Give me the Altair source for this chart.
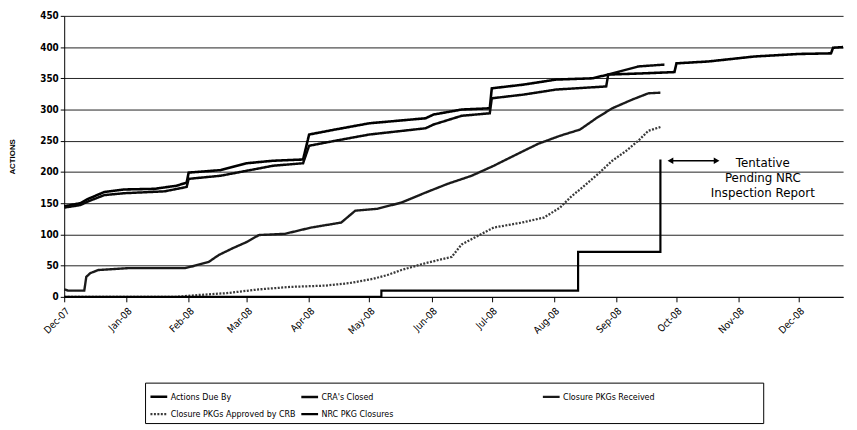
import altair as alt
import pandas as pd

SERIES = ["Actions Due By", "CRA's Closed", "Closure PKGs Received",
          "Closure PKGs Approved by CRB", "NRC PKG Closures"]

DUE_DATES = ["2007-12-01", "2007-12-09", "2007-12-13", "2007-12-21", "2007-12-31", "2008-01-15",
             "2008-01-26", "2008-01-31", "2008-02-01", "2008-02-17", "2008-03-01", "2008-03-14",
             "2008-03-29", "2008-04-01", "2008-04-14", "2008-05-01", "2008-05-29", "2008-06-02",
             "2008-06-16", "2008-06-30", "2008-07-01", "2008-07-17", "2008-08-02", "2008-08-20",
             "2008-08-28", "2008-09-15", "2008-09-30", "2008-10-01", "2008-10-17", "2008-11-09",
             "2008-12-01", "2008-12-17", "2008-12-18", "2008-12-23"]
DUE_VALUES = [145, 150, 157, 168, 172, 173, 178, 183, 199, 203, 214, 218, 220, 260, 268, 278, 286,
              292, 300, 302, 334, 340, 348, 350, 356, 358, 360, 374, 377, 385, 389, 390, 399, 400]

CRA_DATES = ["2007-12-01", "2007-12-09", "2007-12-13", "2007-12-21", "2007-12-31", "2008-01-20",
             "2008-01-31", "2008-02-01", "2008-02-17", "2008-03-01", "2008-03-14", "2008-03-29",
             "2008-04-01", "2008-04-14", "2008-05-01", "2008-05-29", "2008-06-02", "2008-06-16",
             "2008-06-30", "2008-07-01", "2008-07-17", "2008-08-02", "2008-08-27", "2008-08-28",
             "2008-09-12", "2008-09-25"]
CRA_VALUES = [143, 147, 153, 163, 166, 169, 176, 189, 194, 202, 210, 214, 242, 250, 260, 270, 276,
              290, 294, 318, 324, 332, 337, 356, 369, 372]

RECV_DATES = ["2007-12-01", "2007-12-03", "2007-12-11", "2007-12-12", "2007-12-14", "2007-12-18",
              "2008-01-02", "2008-01-30", "2008-02-03", "2008-02-11", "2008-02-16", "2008-02-23",
              "2008-03-01", "2008-03-07", "2008-03-20", "2008-04-02", "2008-04-17", "2008-04-24",
              "2008-05-05", "2008-05-17", "2008-05-29", "2008-06-09", "2008-06-21", "2008-07-02",
              "2008-07-12", "2008-07-24", "2008-08-04", "2008-08-14", "2008-08-22", "2008-08-30",
              "2008-09-09", "2008-09-17", "2008-09-23"]
RECV_VALUES = [12, 10, 10, 32, 38, 43, 46, 46, 49, 56, 67, 78, 88, 99, 101, 111, 119, 138, 141, 151,
               167, 181, 194, 210, 226, 245, 258, 268, 286, 302, 316, 326, 327]

CRB_DATES = ["2007-12-01", "2008-01-26", "2008-02-06", "2008-02-20", "2008-03-07", "2008-03-23",
             "2008-04-09", "2008-04-21", "2008-05-03", "2008-05-10", "2008-05-17", "2008-05-29",
             "2008-06-11", "2008-06-16", "2008-06-26", "2008-07-02", "2008-07-16", "2008-07-27",
             "2008-08-04", "2008-08-09", "2008-08-15", "2008-08-23", "2008-08-30", "2008-09-06",
             "2008-09-12", "2008-09-17", "2008-09-23"]
CRB_VALUES = [0, 0, 3, 6, 12, 16, 18, 22, 29, 35, 43, 54, 64, 84, 101, 111, 119, 127, 143, 159, 175,
              197, 218, 234, 250, 266, 272]

NRC_DATES = ["2007-12-01", "2008-05-07", "2008-05-07", "2008-08-13", "2008-08-13", "2008-09-23",
             "2008-09-23"]
NRC_VALUES = [0, 0, 10, 10, 72, 72, 220]

MONTH_TICKS = [(2007, 12)] + [(2008, m) for m in range(1, 13)]
Y_TICKS = [0, 50, 100, 150, 200, 250, 300, 350, 400, 450]

NOTE_LINES = ["Tentative", "Pending NRC", "Inspection Report"]
NOTE_DATES = ["2008-11-13", "2008-11-13", "2008-11-13"]
NOTE_VALUES = [215, 191, 167]
ARROW_DATES = ["2008-09-28", "2008-10-21"]
ARROW_VALUE = 218

rows = []
for name, dates, vals in zip(SERIES,
                             [DUE_DATES, CRA_DATES, RECV_DATES, CRB_DATES, NRC_DATES],
                             [DUE_VALUES, CRA_VALUES, RECV_VALUES, CRB_VALUES, NRC_VALUES]):
    for i, (d, v) in enumerate(zip(dates, vals)):
        rows.append({"series": name, "date": d, "value": v, "seq": i})
df = pd.DataFrame(rows)

notes = pd.DataFrame({"date": NOTE_DATES, "value": NOTE_VALUES, "text": NOTE_LINES})
arrow = pd.DataFrame({"date": [ARROW_DATES[0]], "date2": [ARROW_DATES[1]], "value": [ARROW_VALUE]})
heads = pd.DataFrame({"date": ARROW_DATES, "value": [ARROW_VALUE] * 2,
                      "shape": ["triangle-left", "triangle-right"]})

FONT = "DejaVu Sans Condensed, Liberation Sans Narrow, Liberation Sans, Arial"
COLORS = ["#000000", "#080808", "#1a1a1a", "#3a3a3a", "#000000"]
WIDTHS = [2.6, 2.2, 1.5, 1.1, 2.6]
DASHES = [[1, 0], [1, 0], [1, 0], [2, 1.5], [1, 0]]

pad2 = "\u2003" * 18 + "\u200b"
pad3 = "\u2003" * 13 + "\u200b"
label_expr = (f"datum.label == 'NRC PKG Closures' ? datum.label + '{pad2}' : "
              f"(datum.label == 'Closure PKGs Received' ? datum.label + '{pad3}' : datum.label)")

legend = alt.Legend(
    title=None, orient="none", legendX=82, legendY=372, columns=3, direction="horizontal",
    symbolType="stroke", symbolSize=289, strokeColor="black", fillColor="white", padding=4,
    labelFont=FONT, labelFontSize=9, labelColor="black", labelLimit=800, columnPadding=0,
    rowPadding=2, labelOffset=2, labelExpr=label_expr,
)

x_scale = alt.Scale(type="utc", domain=[alt.DateTime(year=2007, month=12, date=1, utc=True),
                                        alt.DateTime(year=2008, month=12, date=23, utc=True)])
y_scale = alt.Scale(domain=[0, 450], nice=False)

x_axis = alt.Axis(
    title=None, format="%b-%y", labelAngle=-45, grid=False, tickSize=5, tickColor="black",
    domainColor="black", labelFont=FONT, labelFontSize=10, labelColor="black",
    labelOverlap=False, labelPadding=4,
    values=[alt.DateTime(year=y, month=m, date=1, utc=True) for y, m in MONTH_TICKS],
)
y_axis = alt.Axis(
    title="ACTIONS", titleFont="Liberation Sans", titleFontSize=8, titleFontWeight="bold",
    titleColor="black", titlePadding=24, values=Y_TICKS, grid=True, gridColor="#222222",
    gridWidth=1, tickSize=4, tickColor="black", domainColor="black", labelFont=FONT,
    labelFontSize=10, labelFontWeight="bold", labelColor="black", labelPadding=2,
    labelOverlap=False,
)

X = alt.X("date:T", scale=x_scale, axis=x_axis)
Y = alt.Y("value:Q", scale=y_scale, axis=y_axis)

lines = alt.Chart(df).mark_line().encode(
    x=X, y=Y,
    color=alt.Color("series:N", scale=alt.Scale(domain=SERIES, range=COLORS), legend=legend),
    strokeWidth=alt.StrokeWidth("series:N", scale=alt.Scale(domain=SERIES, range=WIDTHS), legend=legend),
    strokeDash=alt.StrokeDash("series:N", scale=alt.Scale(domain=SERIES, range=DASHES), legend=legend),
    order=alt.Order("seq:Q"),
)

arrow_rule = alt.Chart(arrow).mark_rule(color="black", strokeWidth=1.5).encode(
    x=X, x2="date2:T", y=Y)
arrow_heads = alt.Chart(heads).mark_point(filled=True, color="black", size=45, opacity=1).encode(
    x=X, y=Y, shape=alt.Shape("shape:N", scale=None, legend=None))
note_text = alt.Chart(notes).mark_text(
    font="DejaVu Sans", fontSize=12, color="black", align="center", baseline="middle"
).encode(x=X, y=Y, text="text:N")

chart = alt.layer(lines, arrow_rule, arrow_heads, note_text).properties(
    width=790, height=285,
    padding={"left": 0, "top": 0, "right": 0, "bottom": 0},
).configure_view(stroke=None)

chart.save("out.html", embed_options={"renderer": "svg", "actions": False})
